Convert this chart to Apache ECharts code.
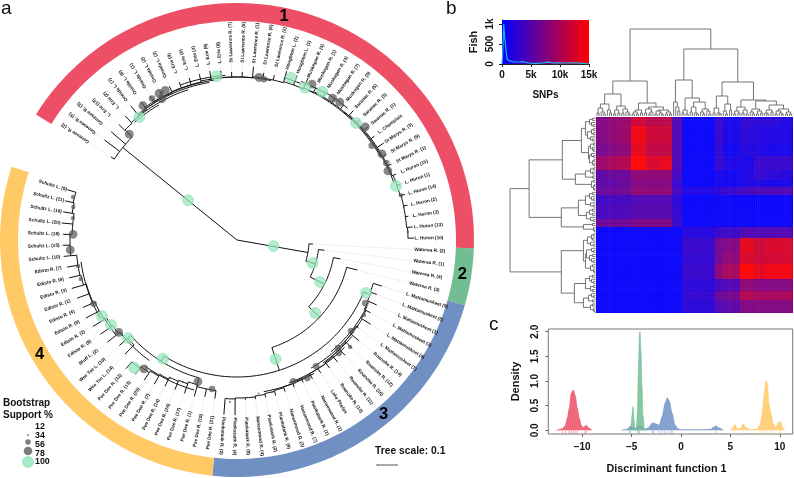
<!DOCTYPE html>
<html><head><meta charset="utf-8">
<script src="https://cdn.jsdelivr.net/npm/echarts@6/dist/echarts.min.js"></script>
<style>html,body{margin:0;padding:0;background:#fff}#c{width:794px;height:478px}</style>
</head><body><div id="c"></div>
<script>
// ---------- panel a: tree data ----------
const leafNames = ["Genesee R. (2)","Genesee R. (5)","Genesee R. (3)","L. Erie (13)","L. Erie (2)","Oneida L. (7)","Oneida L. (8)","Oneida L. (1)","Oneida L. (2)","Oneida L. (3)","L. Erie (9)","L. Erie (6)","L. Erie (4)","L. Erie (9)","L. Erie (8)","St Lawrence R. (7)","St Lawrence R. (5)","St Lawrence R. (1)","St Lawrence R. (6)","St Lawrence R. (2)","Houghton L. (2)","Houghton L. (1)","Muskegon R. (3)","Muskegon R. (1)","Muskegon R. (4)","Muskegon R. (7)","Muskegon R. (5)","Saranac R. (5)","Saranac R. (3)","Saranac R. (1)","L. Champlain","St Marys R. (3)","St Marys R. (5)","St Marys R. (1)","L. Huron (15)","L. Huron (1)","L. Huron (14)","L. Huron (2)","L. Huron (3)","L. Huron (13)","L. Huron (10)",
"Waterea R. (2)","Waterea R. (1)","Waterea R. (4)","Waterea R. (3)",
"L. Mattamuskeet (9)","L. Mattamuskeet (5)","L. Mattamuskeet (1)","L. Mattamuskeet (3)","L. Mattamuskeet (4)","L. Mattamuskeet (7)","Roanoke R. (14)","Roanoke R. (12)","Roanoke R. (16)","Roanoke R. (11)","Roanoke R. (10)","Lake Phelps","Nansemond R. (1)","Piankatank R. (1)","Nansemond R. (7)","Nansemond R. (3)","Piankatank R. (9)","Piankatank R. (2)","Nansemond R. (4)","Piankatank R. (8)","Piankatank R. (4)","Piankatank R. (2)",
"Pee Dee R. (21)","Pee Dee R. (19)","Pee Dee R. (1)","Pee Dee R. (17)","Pee Dee R. (24)","Pee Dee R. (14)","Pee Dee R. (7)","Pee Dee R. (20)","Pee Dee R. (13)","Pee Dee R. (12)","Wee Tee L. (14)","Wee Tee L. (10)","Bluff L. (2)","Edisto R. (9)","Edisto R. (2)","Edisto R. (8)","Edisto R. (4)","Edisto R. (1)","Edisto R. (3)","Edisto R. (6)","Edisto R. (7)","Schultz L. (10)","Schultz L. (15)","Schultz L. (18)","Schultz L. (20)","Schultz L. (19)","Schultz L. (11)","Schultz L. (9)"];
const leafBase = [147,147,147,157,158,159,160,161,161,162,162,162,163,163,163,163,163,164,164,164,165,165,166,167,167,167,167,168,168,168,168,168,168,168,169,169,170,170,170,171,172,
72,82,98,113,
143,144,145,147,148,147,148,149,150,151,152,152,153,153,154,155,156,157,158,158,159,160,
152,152,150,152,153,155,157,159,161,163,147,149,151,152,155,155,157,157,160,161,161,167,167,165,165,167,168,170];
const leafTip = [151,166,166,165,167,171,168,168,168,168,168,169,170,171,170,168,168,174,169,169,176,175,177,172,172,172,172,174,172,173,172,176,172,172,172,172,174,174,173,176,177,
76,88,105,124,
152,150,154,152,158,150,158,158,158,158,158,157,158,157,158,159,160,160,160,160,175,175,
160,160,162,162,162,163,166,168,168,170,160,158,165,166,168,170,168,170,172,172,172,174,174,174,176,176,176,177];
const ladderRanges = [[3,40],[45,66],[67,76],[77,94]];
const firstLeafAngle = 303.4, leafStep = 3.65;
const treeStems = [[309,0,147],[100,0,72],[107,72,82],[116.8,82,98],[133,98,113],[162,113,137],[112.3,137,143],[212,137,143],[314.5,147,157],[195.4,143,150],[228,143,147]];
const treeArcs = [[147,303.4,314.5],[72,93,107],[82,96.7,116.8],[98,100.3,133],[113,104,162],[137,112.3,212],[143,195.4,228],
[156,319,330],[158,320,342],[160,322,350],[161.5,325,352],[165,340,356],[163,350,372],[169,376.5,382],[171,382,390],[172,390,400],[166,385,420],[167,400,430],
[146,117,140],[148,125,150],[150,130,145],[152,135,160],[154,150,170],[156,196,216],[149,216,232],[154,232,240],[157.5,240,262]];
const bootGreen = [[157,321.5,100],[165,353,100],[171,18.4,100],[167,24,100],[171,29.9,100],[167,45.5,100],[168,71.2,100],
[37,99.5,100],[79,107,100],[93,116.8,100],[107,133,100],[125,162,100],[139.5,112.3,100],[140,212,100],[164,218.8,100],[155,240.6,100],[152,236,100],[146.6,228,100],[63,309,100]];
const bootGray = [[151,314.5,78],[164,325,78],[165,329,56],[166,332,78],[160,332,78],[166,334.4,78],[164,7.7,78],[163,9.5,56],[173,25.7,78],[171,34,78],[172,36.7,78],[171,48.6,78],[164.5,55,56],[168.6,59.3,78],[168,62.7,56],[166,65.4,78],[170,74.7,34],[170,78.8,12],[171,87.3,12],
[143,116.2,56],[147.5,120.6,34],[146,128.6,56],[148,136.9,56],[152,138,56],[149,147.9,56],[152,158.3,56],[155,153,56],[156,167,12],[155,172,12],[155.6,133.4,34],[162,182.5,12],
[147,195.4,78],[151,189.5,56],[159,215.8,78],[157,212.8,12],[155,209.7,12],[153.4,206,12],[152,200.8,12],[150,232,78],[157,246,56],[161,256,34],[161,260.7,34],[167,266.6,78],[169.5,284.7,34],[167,281.4,34],[165.5,277.6,34],[164,272,78]];
const ringSegments = [[302,452,"#EC4F66"],[452,466,"#72BD91"],[466,546,"#7090C4"],[546,648,"#FFC966"]];
const ringNumbers = [["1",228,11.9],["2",228,98.8],["3",228,140],["4",228,240]];
const supportTicks = ["12","34","56","78","100"];

// ---------- panel b: key histogram ----------
const histCounts = [[0,0],[100,200],[200,600],[300,1000],[400,1020],[500,600],[600,520],[700,300],[800,250],[900,120],[1000,100],[1300,80],[1500,100],[1800,60],[2000,80],[2500,50],[3000,50],[3500,60],[4000,50],[4500,30],[5000,20],[5500,15],[6000,15],[7000,30],[7500,40],[8000,45],[8500,35],[9000,30],[10000,30],[11000,25],[12000,30],[13000,30],[14000,15],[15000,0]];
const histXTicks = {0:"0",5000:"5k",10000:"10k",15000:"15k"};
const histYTicks = {0:"0",500:"500",1000:"1k"};

// ---------- panel b: dendrograms [height,left,right], 0 = leaf ----------
const dendroTop = [87,
 [35,[22,[12,[8,[3,0,0],[4,0,[2,0,0]]],[6,0,[3,0,0]]],[10,[6,[2,0,0],[3,0,0]],[7,[3,0,0],[4,0,[2,0,0]]]]],
     [13,[6,[4,[2,0,0],[2,0,0]],[3,0,0]],[9,[7,[3,0,0],[4,[2,0,0],0]],[6,[5,[2,0,0],[3,0,[1.5,0,0]]],[4,[2,0,0],[2,0,0]]]]]],
 [67,[36,[14,0,[9,0,[5,0,0]]],[18,[6,[3,0,0],[2,0,0]],[14,[9,[4,0,0],[3,0,[2,0,0]]],[7,[4,0,[2,0,0]],[5,0,[2,0,0]]]]]],
     [34,[20,[8,[3,0,0],[3,0,[2,0,0]]],[12,[5,0,[2,0,0]],[6,0,0]]],
         [16,[9,[5,[2,0,0],[3,0,0]],[6,[3,0,0],[2,0,0]]],[15,[7,[4,0,[2,0,0]],[5,[2,0,0],[3,0,0]]],[11,[6,[3,0,[2,0,0]],[4,0,0]],[7,[5,[2,0,0],[3,0,[1.5,0,0]]],[4,[2,0,0],[2,0,0]]]]]]]]];
const dendroLeft = [85,
 [66,[33,[14,[10,[6,[3,0,0],[4,0,[2,0,0]]],[8,[4,[2,0,0],[2,0,0]],[5,0,[3,0,0]]]],[7,[5,[2,0,0],[3,0,[2,0,0]]],[6,[4,0,[2,0,0]],[3,[1.5,0,0],[1.5,0,0]]]]],
         [20,[10,[5,[2,0,0],[3,0,0]],[3,0,0]],[4,[2,0,0],[2,[1,0,0],[1,0,0]]]]],
     [34,[17,[10,[6,[3,0,0],[4,0,[2,0,0]]],[5,0,[2,0,0]]],[9,[6,[3,0,0],[3,0,0]],[5,0,[2,0,0]]]],[12,[3,0,0],[2,0,[1,0,0]]]]],
 [34,[12,[8,[4,[2,0,0],[3,0,0]],[5,0,[2,0,0]]],[10,[9,[4,0,[2,0,0]],[6,[3,0,0],[4,0,[2,0,0]]]],[5,[3,0,0],[2,0,[1,0,0]]]]],
     [21,[10,[6,[3,0,0],[4,0,[2,0,0]]],[5,[2,0,0],[3,0,0]]],[12,[7,[4,0,[2,0,0]],[3,0,0]],[5,[3,0,0],[2,0,[1,0,0]]]]]]];

// ---------- panel b: heat map blocks ----------
const heatColEdges = [0,11,22,35,50,64,76,86,119,127,143,157,169,184,196];
const heatRowEdges = [0,9,26,39,53,63,70,78,88,102,110,121,136,147,162,174,183,196];
const heatLevels = [
[.5,.55,.6,.8,.72,.72,.3,.02,.2,.08,.18,.15,.15,.1],
[.5,.55,.6,.95,.8,.8,.3,.02,.2,.08,.15,.12,.1,.1],
[.45,.5,.55,.9,.75,.75,.3,.02,.18,.05,.12,.1,.08,.08],
[.6,.65,.7,1,.85,.9,.3,.02,.2,.1,.08,.2,.2,.2],
[.35,.4,.4,.55,.55,.55,.25,.02,.08,.05,.1,.18,.15,.12],
[.35,.35,.4,.5,.5,.5,.2,.02,.08,.05,.08,.1,.08,.08],
[.4,.42,.42,.55,.55,.55,.25,.1,.15,.2,.25,.28,.28,.3],
[.22,.25,.25,.3,.3,.3,.15,.02,.03,.02,.02,.02,.02,.02],
[.25,.28,.28,.32,.32,.32,.18,.02,.03,.02,.02,.02,.02,.02],
[.4,.42,.42,.48,.48,.48,.2,.02,.03,.02,.02,.02,.02,.02],
[.02,.02,.02,.02,.02,.02,.02,.12,.2,.22,.3,.3,.3,.3],
[.02,.02,.02,.02,.02,.02,.02,.2,.45,.5,.9,.8,.85,.85],
[.02,.02,.02,.02,.02,.02,.02,.18,.45,.55,.85,.8,.82,.85],
[.02,.02,.02,.02,.02,.02,.02,.2,.55,.65,1,.9,.95,.95],
[.02,.02,.02,.02,.02,.02,.02,.15,.25,.3,.55,.5,.5,.5],
[.02,.02,.02,.02,.02,.02,.02,.18,.4,.45,.7,.65,.65,.65],
[.02,.02,.02,.02,.02,.02,.02,.15,.3,.35,.5,.5,.5,.5]];

// ---------- panel c: densities ----------
const densRed = [[-12.6,0],[-12,.03],[-11.7,.1],[-11.5,.25],[-11.3,.45],[-11.1,.75],[-10.9,.82],[-10.7,.7],[-10.5,.45],[-10.3,.25],[-10.1,.1],[-9.9,.05],[-9.6,.1],[-9.3,.04],[-9,0]];
const densGreen = [[-5.3,0],[-5.1,.03],[-4.95,.3],[-4.85,.48],[-4.75,.2],[-4.65,.02],[-4.5,.05],[-4.4,.4],[-4.3,1.3],[-4.2,1.95],[-4.15,2],[-4.05,1.6],[-3.95,.9],[-3.85,.3],[-3.7,.02],[-3.5,0]];
const densBlue = [[-6,0],[-5.5,.02],[-5.1,.08],[-4.7,.03],[-4.2,.09],[-3.7,.02],[-3.3,.05],[-2.9,.15],[-2.5,.13],[-2.2,.1],[-1.9,.28],[-1.6,.55],[-1.4,.66],[-1.2,.6],[-.9,.35],[-.6,.1],[-.3,.03],[0,.01],[1,.01],[2,.01],[3,.02],[3.3,.06],[3.55,.09],[3.8,.05],[4.3,0]];
const densYellow = [[5,0],[5.2,.03],[5.45,.12],[5.7,.03],[6,.03],[6.3,.13],[6.6,.05],[7,.01],[7.7,.02],[8,.1],[8.2,.3],[8.4,.7],[8.6,1],[8.75,.95],[8.9,.55],[9.1,.35],[9.3,.15],[9.6,.05],[9.85,.15],[10.05,.18],[10.3,.05],[10.5,0]];
const rugRed = [-12,-11.7,-11.3,-11.1,-10.9,-10.7,-10.5,-9.7,-9.6];
const rugGreen = [-5.1,-4.4,-4.3,-4.2];
const rugBlue = [-5.2,-2.9,-2.8,-2.2,-1.9,-1.6,-1.3,-1,-.9,3.55];
const rugYellow = [5.4,6.3,8,8.2,8.5,8.7,9,9.2,10,10.1];
const densXTicks = [-10,-5,0,5,10];
const densYTicks = [0,.5,1,1.5,2];

// ---------- build ----------
const FONT = '"Liberation Sans", Arial, sans-serif';
const chart = echarts.init(document.getElementById('c'), null, {renderer:'canvas'});
const angleOf = i => firstLeafAngle + i*leafStep;
const labelRows = leafNames.map((n,i)=>[i]);
const stemRows = []; leafNames.forEach((n,i)=>stemRows.push([angleOf(i),leafBase[i],leafTip[i]]));
treeStems.forEach(s=>stemRows.push(s));
const arcRows = treeArcs.map(a=>a.slice());
ladderRanges.forEach(([s,e])=>{ for(let i=s;i<e;i++){
  arcRows.push([leafBase[i],angleOf(i),angleOf(i+1)]);
  stemRows.push([angleOf(i+1),leafBase[i],leafBase[i+1]]);
}});
const leaderRows = leafNames.map((n,i)=>[angleOf(i),leafTip[i],177]);

function arcPts(api,r,a0,a1){const pts=[];const n=Math.max(2,Math.ceil((a1-a0)/1.5));
  for(let k=0;k<=n;k++)pts.push(api.coord([r,a0+(a1-a0)*k/n]));return pts;}
function polarCustom(name,data,render,z){return {type:'custom',name,coordinateSystem:'polar',polarIndex:0,data,renderItem:render,silent:true,z:z||2,animation:false,clip:false};}
function cartCustom(gridIdx,data,render,z){return {type:'custom',xAxisIndex:gridIdx,yAxisIndex:gridIdx,data,renderItem:render,silent:true,z:z||2,animation:false,clip:false};}
const lineStyle = {stroke:'#111',lineWidth:1,fill:null};

function dendroSegs(tree){const segs=[];const c={i:0};
  (function walk(n){ if(n===0) return {p:c.i++ +.5,h:0};
    const A=walk(n[1]),B=walk(n[2]),h=n[0];
    segs.push([A.p,A.h,A.p,h],[B.p,B.h,B.p,h],[A.p,h,B.p,h]);
    return {p:(A.p+B.p)/2,h}; })(tree);
  return segs;}
const heatRows=[]; heatLevels.forEach((row,ri)=>row.forEach((v,ci)=>heatRows.push([heatColEdges[ci],heatColEdges[ci+1],heatRowEdges[ri],heatRowEdges[ri+1],v])));
const heatColor=v=>`rgb(${Math.round(255*v)},0,${Math.round(255*(1-v))})`;
const heatCellCount = 95;
const heatGridRows = Array.from({length:heatCellCount-1},(_,i)=>[i+1]);

function densSeries(data,color){return {type:'line',xAxisIndex:4,yAxisIndex:4,data,showSymbol:false,smooth:.25,smoothMonotone:'x',animation:false,silent:true,
  lineStyle:{color,width:.8,opacity:.8},areaStyle:{color,opacity:.85},z:3};}
function rugSeries(vals,color){return cartCustom(4,vals.map(v=>[v]),(p,api)=>{const a=api.coord([api.value(0),0]),b=api.coord([api.value(0),-.07]);
  return {type:'line',shape:{x1:a[0],y1:a[1],x2:b[0],y2:b[1]},style:{stroke:color,lineWidth:.8,opacity:.6}};},2);}

const boldAxis = {fontFamily:FONT,fontWeight:'bold',color:'#111',fontSize:10};
function gtext(x,y,text,size,weight,extra){return Object.assign({type:'text',x,y,silent:true,style:{text,fontFamily:FONT,fontSize:size,fontWeight:weight||'bold',fill:'#111',align:'left',verticalAlign:'middle'}},extra||{});}
function gcirc(y,r,fill,stroke,op){return {type:'circle',x:28,y,silent:true,shape:{r},style:{fill,stroke:stroke||null,lineWidth:.6,opacity:op}};}

const option = {
 animation:false, backgroundColor:'#fff',
 polar:{center:[237,240],radius:[0,237]},
 angleAxis:{type:'value',min:0,max:360,startAngle:90,clockwise:true,show:false},
 radiusAxis:{type:'value',min:0,max:237,show:false},
 grid:[
  {left:502,top:20,width:87,height:44},
  {left:596,top:29,width:196.7,height:87},
  {left:510,top:117.3,width:85.5,height:196},
  {left:596,top:117.3,width:196.7,height:196},
  {left:548.3,top:329,width:244.4,height:105,show:true,borderColor:'#777',borderWidth:1,backgroundColor:'transparent'}
 ],
 xAxis:[
  {gridIndex:0,type:'value',min:0,max:15000,axisLine:{show:true,onZero:false,lineStyle:{color:'#222'}},axisTick:{customValues:[0,5000,10000,15000],length:3,lineStyle:{color:'#222'}},splitLine:{show:false},
   axisLabel:Object.assign({customValues:[0,5000,10000,15000],margin:6,formatter:v=>histXTicks[v],hideOverlap:false},boldAxis),
   name:'SNPs',nameLocation:'middle',nameGap:26,nameTextStyle:boldAxis},
  {gridIndex:1,type:'value',min:0,max:95,show:false},
  {gridIndex:2,type:'value',min:0,max:85,inverse:true,show:false},
  {gridIndex:3,type:'value',min:0,max:196,show:false},
  {gridIndex:4,type:'value',min:-13.43,max:11.31,axisLine:{show:false,onZero:false},axisTick:{customValues:densXTicks,length:3,lineStyle:{color:'#666'}},splitLine:{show:false},
   axisLabel:Object.assign({customValues:densXTicks,margin:8,formatter:v=>String(v).replace('-','\u2212')},boldAxis),
   name:'Discriminant function 1',nameLocation:'middle',nameGap:30,nameTextStyle:Object.assign({},boldAxis,{fontSize:10.8,padding:[0,8,0,0]})}
 ],
 yAxis:[
  {gridIndex:0,type:'value',min:0,max:1100,axisLine:{show:true,onZero:false,lineStyle:{color:'#222'}},axisTick:{customValues:[0,500,1000],length:3,lineStyle:{color:'#222'}},splitLine:{show:false},
   axisLabel:Object.assign({customValues:[0,500,1000],rotate:90,margin:7,formatter:v=>histYTicks[v]},boldAxis),
   name:'Fish',nameLocation:'middle',nameGap:23,nameRotate:90,nameTextStyle:Object.assign({},boldAxis,{fontSize:11})},
  {gridIndex:1,type:'value',min:0,max:87,show:false},
  {gridIndex:2,type:'value',min:0,max:95,inverse:true,show:false},
  {gridIndex:3,type:'value',min:0,max:196,inverse:true,show:false},
  {gridIndex:4,type:'value',min:-.075,max:2.055,axisLine:{show:false,onZero:false},axisTick:{customValues:densYTicks,length:3,lineStyle:{color:'#666'}},splitLine:{show:false},
   axisLabel:Object.assign({customValues:densYTicks,rotate:90,margin:8,formatter:v=>v.toFixed(1)},boldAxis),
   name:'Density',nameLocation:'middle',nameGap:27,nameRotate:90,nameTextStyle:Object.assign({},boldAxis,{fontSize:11})}
 ],
 series:[
  polarCustom('ring',ringSegments,(p,api)=>{const s=ringSegments[p.dataIndex];const o=arcPts(api,237,s[0],s[1]),i=arcPts(api,219,s[0],s[1]).reverse();
     return {type:'polygon',shape:{points:o.concat(i)},style:{fill:s[2]}};},1),
  polarCustom('ringNo',ringNumbers,(p,api)=>{const s=ringNumbers[p.dataIndex],c=api.coord([s[1],s[2]]);
     return {type:'text',x:c[0],y:c[1],style:{text:s[0],fontFamily:FONT,fontWeight:'bold',fontSize:16.5,fill:'#000',align:'center',verticalAlign:'middle'}};},5),
  polarCustom('leaders',leaderRows,(p,api)=>{const s=leaderRows[p.dataIndex];const a=api.coord([s[1],s[0]]),b=api.coord([s[2],s[0]]);
     return {type:'line',shape:{x1:a[0],y1:a[1],x2:b[0],y2:b[1]},style:{stroke:'#bbb',lineWidth:.6,lineDash:[1,1.5]}};},1),
  polarCustom('arcs',arcRows,(p,api)=>{const s=arcRows[p.dataIndex];return {type:'polyline',shape:{points:arcPts(api,s[0],s[1],s[2])},style:lineStyle};},2),
  polarCustom('stems',stemRows,(p,api)=>{const s=stemRows[p.dataIndex];const a=api.coord([s[1],s[0]]),b=api.coord([s[2],s[0]]);
     return {type:'line',shape:{x1:a[0],y1:a[1],x2:b[0],y2:b[1]},style:{stroke:'#111',lineWidth:1}};},2),
  {type:'scatter',coordinateSystem:'polar',polarIndex:0,data:bootGray,symbolSize:v=>1+v[2]*.1,itemStyle:{color:'#555',opacity:.7},silent:true,z:3,animation:false},
  {type:'scatter',coordinateSystem:'polar',polarIndex:0,data:bootGreen,symbolSize:v=>1+v[2]*.1,itemStyle:{color:'#98E8BE',opacity:.75,borderColor:'#7BD3A4',borderWidth:.6},silent:true,z:3,animation:false},
  polarCustom('labels',labelRows,(p,api)=>{const i=p.dataIndex,a=angleOf(i),c=api.coord([177.5,a]);
     const inward=i>=67;const th=(90-a)*Math.PI/180+(inward?Math.PI:0);
     return {type:'text',x:c[0],y:c[1],rotation:th,style:{text:leafNames[i],fontFamily:FONT,fontWeight:'bold',fontSize:4.7,fill:'#111',align:inward?'right':'left',verticalAlign:'middle'}};},4),
  // histogram key
  cartCustom(0,[[0,15000]],(p,api)=>{const a=api.coord([0,1100]),b=api.coord([15000,0]);
     return {type:'rect',shape:{x:a[0],y:a[1],width:b[0]-a[0],height:b[1]-a[1]},style:{fill:new echarts.graphic.LinearGradient(0,0,1,0,[{offset:0,color:'#0000ff'},{offset:1,color:'#ff0000'}])}};},1),
  {type:'line',xAxisIndex:0,yAxisIndex:0,data:histCounts,showSymbol:false,lineStyle:{color:'#19B5E6',width:1.2},silent:true,z:3,animation:false},
  // dendrograms
  ...[[1,dendroTop,false],[2,dendroLeft,true]].map(([g,t,flip])=>{const segs=dendroSegs(t);
     return cartCustom(g,segs,(p,api)=>{const s=segs[p.dataIndex];const a=api.coord(flip?[s[1],s[0]]:[s[0],s[1]]),b=api.coord(flip?[s[3],s[2]]:[s[2],s[3]]);
       return {type:'line',shape:{x1:a[0],y1:a[1],x2:b[0],y2:b[1]},style:{stroke:'#666',lineWidth:.9}};});}),
  // heat map
  cartCustom(3,heatRows,(p,api)=>{const s=heatRows[p.dataIndex];const a=api.coord([s[0],s[2]]),b=api.coord([s[1],s[3]]);
     const x=Math.round(a[0]),y=Math.round(a[1]);
     return {type:'rect',shape:{x,y,width:Math.round(b[0])-x,height:Math.round(b[1])-y},style:{fill:heatColor(s[4])}};}),
  cartCustom(3,heatGridRows,(p,api)=>{const t=api.value(0)*196/heatCellCount;const a=api.coord([t,0]),b=api.coord([t,196]),c=api.coord([0,t]),d=api.coord([196,t]);
     return {type:'group',children:[
       {type:'line',shape:{x1:a[0],y1:a[1],x2:b[0],y2:b[1]},style:{stroke:'#fff',lineWidth:.5,opacity:.1}},
       {type:'line',shape:{x1:c[0],y1:c[1],x2:d[0],y2:d[1]},style:{stroke:'#fff',lineWidth:.5,opacity:.1}}]};},3),
  // densities
  rugSeries(rugRed,'#EC4F66'),rugSeries(rugGreen,'#72BD91'),rugSeries(rugBlue,'#7090C4'),rugSeries(rugYellow,'#FFC966'),
  densSeries(densRed,'#EC4F66'),densSeries(densBlue,'#7090C4'),densSeries(densGreen,'#72BD91'),densSeries(densYellow,'#FFC966')
 ],
 graphic:[
  gtext(1,9,'a',19,'normal'),gtext(446,9,'b',19,'normal'),gtext(489,325,'c',19,'normal'),
  gtext(3,403,'Bootstrap',10),gtext(3,415,'Support %',10),
  gtext(35,427,supportTicks[0],8.8),gtext(35,436,supportTicks[1],8.8),gtext(35,445,supportTicks[2],8.8),gtext(35,453.5,supportTicks[3],8.8),gtext(35,462,supportTicks[4],8.8),
  gcirc(435,1,'#666',null,.8),gcirc(442,2.8,'#666',null,.85),gcirc(451,4.3,'#666',null,.85),gcirc(462,5.5,'#98E8BE','#7BD3A4',.85),
  gtext(375,451,'Tree scale: 0.1',10.3),
  {type:'line',silent:true,shape:{x1:377,y1:465,x2:397,y2:465},style:{stroke:'#555',lineWidth:1}},
  {type:'line',silent:true,shape:{x1:377,y1:464,x2:377,y2:466},style:{stroke:'#555',lineWidth:.7}},
  {type:'line',silent:true,shape:{x1:397,y1:464,x2:397,y2:466},style:{stroke:'#555',lineWidth:.7}}
 ]
};
chart.setOption(option);
</script></body></html>
